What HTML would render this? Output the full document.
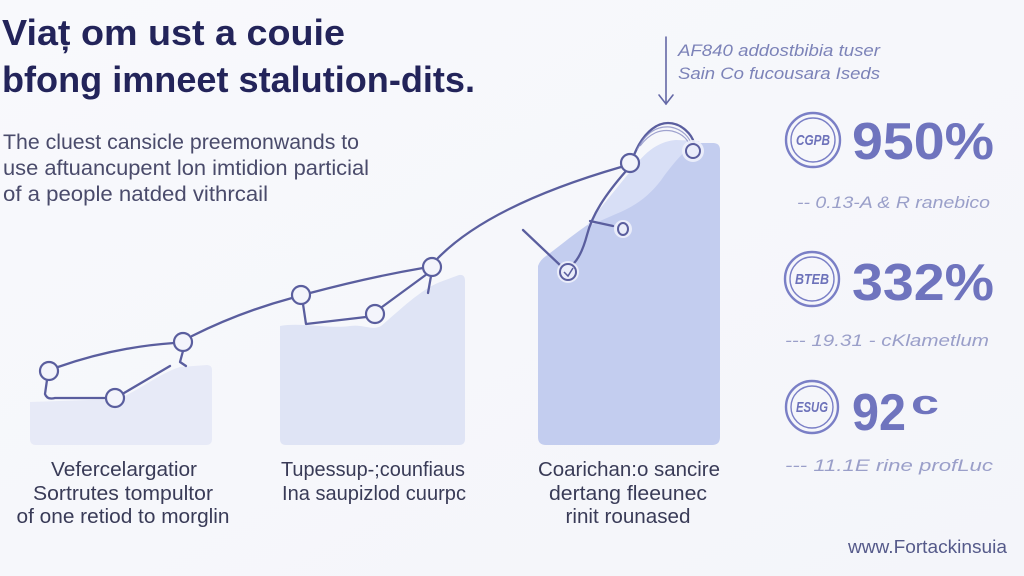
<!DOCTYPE html>
<html>
<head>
<meta charset="utf-8">
<style>
html,body{margin:0;padding:0;background:#f7f8fc;}
body{width:1024px;height:576px;overflow:hidden;}
svg{display:block;}
text{font-family:"Liberation Sans",sans-serif;}
</style>
</head>
<body>
<svg width="1024" height="576" viewBox="0 0 1024 576" xmlns="http://www.w3.org/2000/svg">
  <defs>
    <linearGradient id="bg" x1="0" y1="0" x2="1" y2="1">
      <stop offset="0" stop-color="#f8f9fc"/>
      <stop offset="1" stop-color="#f4f5fa"/>
    </linearGradient>
  </defs>
  <rect width="1024" height="576" fill="url(#bg)"/>

  <!-- Title -->
  <text x="2" y="45" font-size="36.5" font-weight="bold" fill="#23245a" textLength="343" lengthAdjust="spacingAndGlyphs">Viaț om ust a couie</text>
  <text x="2" y="92" font-size="36.5" font-weight="bold" fill="#23245a" textLength="473" lengthAdjust="spacingAndGlyphs">bfong imneet stalution-dits.</text>

  <!-- Paragraph -->
  <g font-size="21.5" fill="#4a4b6b">
    <text x="3" y="149" textLength="356" lengthAdjust="spacingAndGlyphs">The cluest cansicle preemonwands to</text>
    <text x="3" y="175" textLength="366" lengthAdjust="spacingAndGlyphs">use aftuancupent lon imtidion particial</text>
    <text x="3" y="201" textLength="265" lengthAdjust="spacingAndGlyphs">of a people natded vithrcail</text>
  </g>

  <!-- Bars -->
  <path d="M30,402 L118,399 C140,390 160,373 180,367 L207,365 Q212,365 212,370 L212,439 Q212,445 206,445 L36,445 Q30,445 30,439 Z" fill="#e7eaf7"/>
  <path d="M280,326 C300,322 330,329 350,326 C364,324 372,331 381,326 C400,310 420,290 440,282 L459,275 Q465,274 465,281 L465,439 Q465,445 459,445 L286,445 Q280,445 280,439 Z" fill="#dfe4f5"/>
  <path d="M538,266 Q540,260 546,256 C560,246 576,232 592,222 C612,210 635,198 652,182 C668,166 678,149 690,143 L713,143 Q720,143 720,150 L720,437 Q720,445 712,445 L546,445 Q538,445 538,437 Z" fill="#c3cdef"/>
  <path d="M588,224 C602,206 620,184 638,162 C650,148 662,141 676,140 L700,141 C688,146 676,160 664,176 C652,194 636,206 616,214 C604,219 596,223 588,226 Z" fill="#d8dff6"/>

  <!-- Annotation arrow -->
  <g stroke="#6468a6" stroke-width="1.6" fill="none" stroke-linecap="round">
    <path d="M666,37 L666,104"/>
    <path d="M659,95 L666,104 L673,95"/>
  </g>
  <g font-size="17" font-style="italic" fill="#7c83b8">
    <text x="678" y="56" textLength="202" lengthAdjust="spacingAndGlyphs">AF840 addostbibia tuser</text>
    <text x="678" y="79" textLength="202" lengthAdjust="spacingAndGlyphs">Sain Co fucousara Iseds</text>
  </g>

  <!-- Line chart -->
  <g stroke="#5a5e9e" stroke-width="2.3" fill="none" stroke-linecap="round" stroke-linejoin="round">
    <path d="M58,367 Q115,347 174,343"/>
    <path d="M47,380 L45,394 Q47,400 55,398 L106,398"/>
    <path d="M124,393 L170,366"/>
    <path d="M183,351 L180,362 L186,366"/>
    <path d="M192,336 Q240,312 292,298"/>
    <path d="M310,293 Q370,277 423,268"/>
    <path d="M303,304 L306,324 L366,317"/>
    <path d="M382,307 L427,274"/>
    <path d="M431,276 L428,293"/>
    <path d="M438,258 Q490,205 621,167"/>
    <path d="M634,155 C642,135 655,123 668,123 C682,123 692,135 694,143"/>
    <path d="M626,171 C605,195 592,215 587,235 C583,250 578,260 572,265"/>
    <path d="M523,230 L561,266"/>
    <path d="M590,221 L613,226"/>
  </g>
  <g stroke="#8a8ec4" stroke-width="1.2" fill="none" opacity="0.8">
    <path d="M637,150 C646,132 657,126 670,127 C683,129 690,138 692,146"/>
    <path d="M640,146 C650,133 660,129 672,131 C684,134 689,141 690,148"/>
  </g>
  <g stroke="#5a5e9e" stroke-width="2.2" fill="#f3f4fb">
    <circle cx="49" cy="371" r="9"/>
    <circle cx="115" cy="398" r="9"/>
    <circle cx="183" cy="342" r="9"/>
    <circle cx="301" cy="295" r="9"/>
    <circle cx="375" cy="314" r="9"/>
    <circle cx="432" cy="267" r="9"/>
    <circle cx="630" cy="163" r="9"/>
  </g>
  <g fill="#eef1fb" opacity="0.9">
    <circle cx="693" cy="151" r="11"/>
    <circle cx="568" cy="272" r="11"/>
    <circle cx="623" cy="229" r="9"/>
  </g>
  <g stroke="#5a5e9e" stroke-width="2" fill="none">
    <circle cx="693" cy="151" r="7"/>
    <circle cx="568" cy="272" r="8"/>
    <ellipse cx="623" cy="229" rx="5" ry="6"/>
    <path d="M564,272 L568,276 L573,268" stroke-width="1.5"/>
  </g>

  <!-- Bar labels -->
  <g font-size="20.5" fill="#393b57" text-anchor="middle">
    <text x="124" y="476" textLength="146" lengthAdjust="spacingAndGlyphs">Vefercelargatior</text>
    <text x="123" y="500" textLength="180" lengthAdjust="spacingAndGlyphs">Sortrutes tompultor</text>
    <text x="123" y="523" textLength="213" lengthAdjust="spacingAndGlyphs">of one retiod to morglin</text>
    <text x="373" y="476" textLength="184" lengthAdjust="spacingAndGlyphs">Tupessup-;counfiaus</text>
    <text x="374" y="500" textLength="184" lengthAdjust="spacingAndGlyphs">Ina saupizlod cuurpc</text>
    <text x="629" y="476" textLength="182" lengthAdjust="spacingAndGlyphs">Coarichan:o sancire</text>
    <text x="628" y="500" textLength="158" lengthAdjust="spacingAndGlyphs">dertang fleeunec</text>
    <text x="628" y="523" textLength="125" lengthAdjust="spacingAndGlyphs">rinit rounased</text>
  </g>

  <!-- Stats badges -->
  <g stroke="#7a7fc6" fill="none">
    <circle cx="813" cy="140" r="27" stroke-width="2.4"/>
    <circle cx="813" cy="140" r="22" stroke-width="1.4"/>
    <circle cx="812" cy="279" r="27" stroke-width="2.4"/>
    <circle cx="812" cy="279" r="22" stroke-width="1.4"/>
    <circle cx="812" cy="407" r="26" stroke-width="2.4"/>
    <circle cx="812" cy="407" r="21" stroke-width="1.4"/>
  </g>
  <g font-size="15" font-weight="bold" font-style="italic" fill="#6d72ba" text-anchor="middle">
    <text x="813" y="145" textLength="34" lengthAdjust="spacingAndGlyphs">CGPB</text>
    <text x="812" y="284" textLength="34" lengthAdjust="spacingAndGlyphs">BTEB</text>
    <text x="812" y="412" textLength="32" lengthAdjust="spacingAndGlyphs">ESUG</text>
  </g>

  <g font-size="52" font-weight="bold" fill="#6f74be">
    <text x="852" y="159" textLength="142" lengthAdjust="spacingAndGlyphs">950%</text>
    <text x="852" y="300" textLength="142" lengthAdjust="spacingAndGlyphs">332%</text>
    <text x="852" y="430" textLength="54" lengthAdjust="spacingAndGlyphs">92</text>
    <text x="911" y="414" font-size="34" textLength="28" lengthAdjust="spacingAndGlyphs">c</text>
  </g>

  <g font-size="17" font-style="italic" fill="#9a9fc9">
    <text x="797" y="208" textLength="193" lengthAdjust="spacingAndGlyphs">-- 0.13-A &amp; R ranebico</text>
    <text x="785" y="346" textLength="204" lengthAdjust="spacingAndGlyphs">--- 19.31 - cKlametlum</text>
    <text x="785" y="471" textLength="208" lengthAdjust="spacingAndGlyphs">--- 11.1E rine profLuc</text>
  </g>

  <!-- Footer -->
  <text x="848" y="553" font-size="18" fill="#555a8a" textLength="159" lengthAdjust="spacingAndGlyphs">www.Fortackinsuia</text>
</svg>
</body>
</html>
